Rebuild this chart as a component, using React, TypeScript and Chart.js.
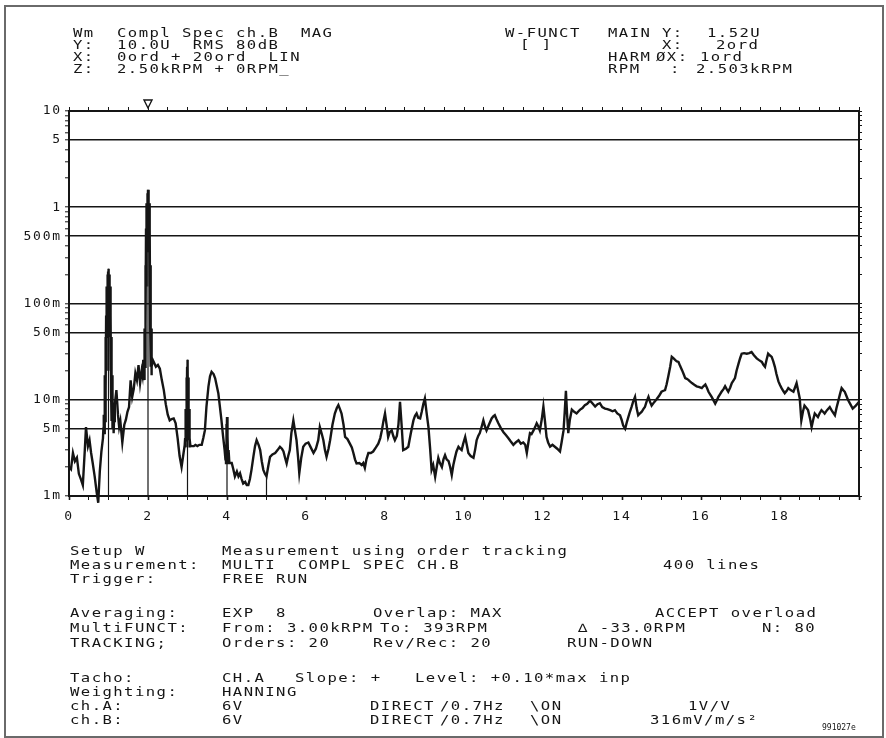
import { useEffect, useRef } from 'react';
import { Chart, registerables } from 'chart.js';

Chart.register(...registerables);

// One spectral bin: [order, magnitude in mV RMS]
type Bin = [number, number];

const bandBelowFirst: Bin[] = [
  [0, 2.0], [0.05, 1.9], [0.1, 2.8], [0.15, 2.3], [0.2, 2.5], [0.25, 1.7], [0.3, 1.5], [0.35, 1.3],
  [0.4, 3.0], [0.43, 5.2], [0.48, 3.3], [0.52, 3.8], [0.56, 2.8], [0.6, 2.2], [0.65, 1.6], [0.7, 1.1],
  [0.74, 0.85], [0.78, 1.8], [0.82, 2.9], [0.86, 4.0],
];

const peakFirstOrder: Bin[] = [
  [0.87, 5], [0.88, 7], [0.89, 4.5], [0.9, 11], [0.905, 5], [0.91, 18], [0.915, 6], [0.92, 30],
  [0.925, 9], [0.93, 45], [0.935, 12], [0.94, 75], [0.945, 20], [0.95, 110], [0.955, 30], [0.96, 150],
  [0.965, 45], [0.97, 180], [0.975, 60], [0.98, 200], [0.985, 80], [0.99, 215], [0.995, 100], [1.0, 230],
  [1.005, 100], [1.01, 215], [1.015, 80], [1.02, 200], [1.025, 60], [1.03, 180], [1.035, 45], [1.04, 150],
  [1.045, 30], [1.05, 110], [1.055, 20], [1.06, 75], [1.065, 12], [1.07, 45], [1.075, 9], [1.08, 30],
  [1.085, 6], [1.09, 18], [1.095, 5], [1.1, 11], [1.11, 5], [1.12, 8], [1.13, 4.5], [1.14, 6],
];

const bandToSecond: Bin[] = [
  [1.16, 9], [1.2, 12.6], [1.24, 7], [1.27, 5.2], [1.3, 6], [1.35, 3.6], [1.4, 5.5], [1.44, 6.2],
  [1.48, 7.5], [1.52, 8.4], [1.56, 15.9], [1.6, 10.7], [1.64, 13], [1.68, 18.8], [1.72, 16], [1.76, 22.9],
  [1.8, 14.9], [1.84, 20],
];

const peakSecondOrder: Bin[] = [
  [1.86, 18], [1.88, 26], [1.89, 18], [1.9, 25], [1.905, 16], [1.91, 35], [1.915, 18], [1.92, 55],
  [1.925, 22], [1.93, 100], [1.935, 30], [1.94, 250], [1.945, 60], [1.95, 600], [1.955, 150], [1.96, 900],
  [1.965, 250], [1.97, 1100], [1.975, 350], [1.98, 1250], [1.985, 450], [1.99, 1400], [1.995, 600],
  [2.0, 1520], [2.005, 600], [2.01, 1400], [2.015, 450], [2.02, 1250], [2.025, 350], [2.03, 1100],
  [2.035, 250], [2.04, 900], [2.045, 150], [2.05, 600], [2.055, 60], [2.06, 250], [2.065, 30], [2.07, 100],
  [2.075, 22], [2.08, 55], [2.085, 18], [2.09, 35], [2.1, 22], [2.12, 26],
];

const bandToThird: Bin[] = [
  [2.16, 24], [2.2, 22], [2.25, 23], [2.3, 21], [2.35, 16], [2.4, 12.6], [2.45, 9], [2.5, 7],
  [2.55, 6.1], [2.6, 6.3], [2.65, 6.4], [2.7, 5.7], [2.75, 4], [2.8, 2.6], [2.85, 2.0], [2.9, 2.8],
];

const peakThirdOrder: Bin[] = [
  [2.93, 3.4], [2.94, 4], [2.945, 3.2], [2.95, 5.5], [2.955, 3.4], [2.96, 8], [2.965, 3.8], [2.97, 12],
  [2.975, 4.5], [2.98, 17], [2.985, 6], [2.99, 22], [2.995, 8], [3.0, 26], [3.005, 8], [3.01, 22],
  [3.015, 6], [3.02, 17], [3.025, 4.5], [3.03, 12], [3.035, 3.8], [3.04, 8], [3.045, 3.4], [3.05, 5.5],
  [3.055, 3.2], [3.06, 4], [3.07, 3.4], [3.09, 3.3],
];

const bandToFourth: Bin[] = [
  [3.12, 3.3], [3.16, 3.3], [3.2, 3.4], [3.25, 3.3], [3.3, 3.4], [3.36, 3.4], [3.4, 4], [3.44, 4.8],
  [3.48, 8.5], [3.53, 13.7], [3.57, 17.5], [3.61, 19.5], [3.66, 18.5], [3.7, 16.7], [3.74, 14],
  [3.78, 11.7], [3.82, 8.5], [3.86, 6.1], [3.9, 4.2], [3.94, 3.0],
];

const peakFourthOrder: Bin[] = [
  [3.96, 2.4], [3.97, 3.2], [3.975, 2.2], [3.98, 4.4], [3.985, 2.5], [3.99, 5.6], [3.995, 3.0],
  [4.0, 6.6], [4.005, 3.2], [4.01, 5.4], [4.015, 2.6], [4.02, 4.2], [4.03, 2.2], [4.04, 3.0], [4.06, 2.2],
];

const bandFourToSeven: Bin[] = [
  [4.12, 2.2], [4.16, 1.9], [4.2, 1.6], [4.25, 1.8], [4.29, 1.6], [4.33, 1.72], [4.37, 1.5], [4.41, 1.35],
  [4.46, 1.4], [4.5, 1.3], [4.54, 1.3], [4.58, 1.5], [4.62, 1.87], [4.67, 2.6], [4.71, 3.3], [4.75, 3.8],
  [4.8, 3.4], [4.84, 3.0], [4.88, 2.3], [4.92, 1.87], [4.96, 1.7], [5.0, 1.6], [5.05, 2.1], [5.09, 2.55],
  [5.15, 2.7], [5.22, 2.8], [5.28, 3.0], [5.34, 3.25], [5.39, 3.1], [5.43, 2.9], [5.47, 2.5], [5.51, 2.18],
  [5.55, 2.6], [5.59, 3.0], [5.63, 4.5], [5.68, 6.1], [5.72, 4.8], [5.76, 3.8], [5.8, 2.5], [5.83, 1.72],
  [5.88, 2.5], [5.93, 3.25], [5.99, 3.5], [6.06, 3.6], [6.12, 3.2], [6.19, 2.8], [6.25, 3.1], [6.31, 3.8],
  [6.35, 5.2], [6.4, 4.4], [6.44, 3.8], [6.48, 3.0], [6.52, 2.55], [6.57, 3.1], [6.61, 3.8], [6.67, 5.5],
  [6.73, 7.2], [6.78, 8.2], [6.82, 8.8], [6.86, 8.0], [6.9, 7.2], [6.95, 5.5], [6.99, 4.1],
];

const bandSevenToTen: Bin[] = [
  [7.05, 3.9], [7.11, 3.5], [7.16, 3.2], [7.2, 2.8], [7.24, 2.4], [7.28, 2.18], [7.35, 2.2], [7.41, 2.1],
  [7.45, 2.2], [7.49, 1.96], [7.53, 2.4], [7.58, 2.8], [7.64, 2.8], [7.7, 2.9], [7.77, 3.2], [7.83, 3.5],
  [7.88, 4.0], [7.92, 4.8], [7.96, 6.0], [8.0, 7.2], [8.04, 5.5], [8.08, 4.1], [8.12, 4.6], [8.17, 4.8],
  [8.21, 4.2], [8.25, 3.8], [8.3, 4.2], [8.34, 5.5], [8.38, 9.5], [8.42, 5.5], [8.46, 3.0], [8.53, 3.1],
  [8.59, 3.25], [8.65, 4.4], [8.72, 6.1], [8.76, 6.8], [8.8, 7.2], [8.84, 6.5], [8.89, 6.4], [8.93, 7.5],
  [8.97, 9.0], [9.01, 10.3], [9.05, 7.5], [9.1, 5.2], [9.14, 3.2], [9.18, 1.87], [9.22, 2.1], [9.27, 1.58],
  [9.31, 2.0], [9.35, 2.49], [9.39, 2.2], [9.44, 2.0], [9.48, 2.4], [9.52, 2.66], [9.56, 2.4], [9.61, 2.3],
  [9.65, 2.0], [9.69, 1.65], [9.73, 2.1], [9.77, 2.49], [9.81, 2.9], [9.86, 3.25], [9.9, 3.1], [9.94, 3.0],
  [9.98, 3.5],
];

const bandTenToThirteen: Bin[] = [
  [10.03, 4.1], [10.07, 3.4], [10.11, 2.8], [10.17, 2.6], [10.24, 2.49], [10.28, 3.0], [10.32, 3.8],
  [10.36, 4.2], [10.4, 4.5], [10.45, 5.3], [10.49, 6.1], [10.53, 5.3], [10.57, 4.8], [10.63, 5.5],
  [10.7, 6.4], [10.74, 6.7], [10.78, 6.9], [10.82, 6.3], [10.87, 5.7], [10.93, 5.1], [11.0, 4.6],
  [11.06, 4.3], [11.12, 4.0], [11.18, 3.7], [11.25, 3.4], [11.31, 3.6], [11.38, 3.8], [11.44, 3.5],
  [11.5, 3.6], [11.55, 3.4], [11.59, 2.8], [11.63, 3.6], [11.67, 4.5], [11.71, 4.4], [11.76, 4.8],
  [11.8, 5.2], [11.84, 5.7], [11.88, 5.3], [11.92, 4.8], [11.97, 6.3], [12.01, 8.5], [12.05, 6.0],
  [12.09, 4.1], [12.13, 3.6], [12.18, 3.25], [12.24, 3.4], [12.3, 3.25], [12.36, 3.1], [12.43, 2.9],
  [12.47, 3.6], [12.52, 4.8], [12.55, 7.5], [12.58, 12.4], [12.61, 7.0], [12.64, 4.5], [12.68, 6.2],
  [12.73, 7.9], [12.79, 7.5], [12.85, 7.2], [12.9, 7.6], [12.94, 7.9], [13.0, 8.2], [13.06, 8.8],
];

const bandThirteenToSixteen: Bin[] = [
  [13.12, 9.1], [13.19, 9.8], [13.25, 9.2], [13.32, 8.5], [13.38, 9.0], [13.44, 9.2], [13.5, 8.4],
  [13.57, 8.1], [13.63, 8.0], [13.7, 7.8], [13.76, 7.6], [13.82, 7.8], [13.88, 7.2], [13.95, 6.9],
  [13.99, 6.2], [14.03, 5.4], [14.08, 5.0], [14.12, 5.8], [14.16, 6.6], [14.2, 7.5], [14.24, 8.4],
  [14.28, 9.5], [14.33, 10.7], [14.37, 8.2], [14.41, 6.9], [14.45, 7.2], [14.5, 7.5], [14.54, 8.0],
  [14.58, 8.4], [14.62, 9.5], [14.67, 10.7], [14.71, 9.5], [14.75, 8.7], [14.82, 9.5], [14.88, 10.2],
  [14.94, 11.0], [15.0, 12.1], [15.05, 12.4], [15.09, 12.6], [15.13, 14.5], [15.17, 17.3], [15.22, 22.0],
  [15.26, 27.9], [15.3, 27.0], [15.35, 25.8], [15.39, 25.0], [15.43, 24.7], [15.47, 22.5], [15.52, 20.3],
  [15.56, 18.5], [15.6, 16.8], [15.64, 16.5], [15.68, 16.1], [15.72, 15.5], [15.77, 14.9], [15.83, 14.3],
  [15.89, 13.8], [15.96, 13.5],
];

const bandSixteenToTwenty: Bin[] = [
  [16.02, 13.2], [16.06, 13.8], [16.11, 14.4], [16.15, 13.3], [16.19, 12.1], [16.23, 11.4], [16.27, 10.7],
  [16.32, 9.8], [16.36, 9.1], [16.4, 9.8], [16.44, 10.7], [16.48, 11.4], [16.52, 12.1], [16.57, 12.9],
  [16.61, 13.8], [16.65, 12.9], [16.69, 12.1], [16.74, 13.4], [16.78, 14.9], [16.82, 15.8], [16.86, 16.8],
  [16.9, 20.0], [16.95, 23.7], [16.99, 27.0], [17.03, 30.1], [17.09, 30.5], [17.16, 30.1], [17.22, 30.5],
  [17.28, 31.3], [17.34, 29.0], [17.41, 26.9], [17.47, 25.8], [17.54, 24.7], [17.58, 23.0], [17.62, 22.0],
  [17.66, 26.0], [17.7, 30.1], [17.74, 29.0], [17.79, 27.9], [17.83, 25.0], [17.87, 22.0], [17.91, 18.5],
  [17.96, 15.5], [18.0, 14.2], [18.04, 13.2], [18.08, 12.4], [18.12, 11.7], [18.17, 12.4], [18.21, 13.2],
  [18.27, 12.6], [18.34, 12.1], [18.38, 13.4], [18.42, 14.9], [18.46, 12.4], [18.5, 10.3], [18.54, 6.1],
  [18.58, 7.5], [18.62, 8.7], [18.67, 8.2], [18.71, 7.8], [18.76, 6.4], [18.8, 5.2], [18.84, 6.2],
  [18.88, 7.2], [18.92, 6.9], [18.96, 6.6], [19.0, 7.2], [19.05, 7.8], [19.09, 7.5], [19.13, 7.2],
  [19.19, 7.8], [19.26, 8.4], [19.32, 7.6], [19.39, 6.9], [19.43, 8.2], [19.47, 9.5], [19.52, 11.5],
  [19.56, 13.2], [19.6, 12.6], [19.64, 12.1], [19.68, 11.0], [19.72, 10.0], [19.78, 9.0], [19.84, 8.1],
  [19.88, 8.4], [19.92, 8.7], [19.96, 9.1], [20.0, 9.5],
];

const spectrumBands: Bin[][] = [
  bandBelowFirst, peakFirstOrder, bandToSecond, peakSecondOrder, bandToThird, peakThirdOrder,
  bandToFourth, peakFourthOrder, bandFourToSeven, bandSevenToTen, bandTenToThirteen,
  bandThirteenToSixteen, bandSixteenToTwenty,
];

// Harmonic cursor (HARM dX: 1ord) and main cursor position
const harmonicOrders = [1, 2, 3, 4, 5];
const cursorOrder = 2;

// Axis range and labels
const orderMin = 0;
const orderMax = 20;
const orderTickStep = 0.5;
const orderLabels = [0, 2, 4, 6, 8, 10, 12, 14, 16, 18];
const magMin = 0.001;
const magMax = 10;
const magLabelValues = [10, 5, 1, 0.5, 0.1, 0.05, 0.01, 0.005, 0.001];
const magLabelTexts = ['10', '5', '1', '500m', '100m', '50m', '10m', '5m', '1m'];
const magGridValues = [5, 1, 0.5, 0.1, 0.05, 0.01, 0.005];
const decadeExponents = [-3, -2, -1, 0];
const decadeSteps = [1, 2, 3, 4, 5, 6, 7, 8, 9];

const INK = '#151515';
const MONO = '"DejaVu Sans Mono", monospace';

const near = (a: number, b: number) => Math.abs(a - b) <= Math.abs(b) * 1e-6 + 1e-12;

const magTicks = decadeExponents
  .flatMap((e) => decadeSteps.map((s) => s * Math.pow(10, e)))
  .concat([magMax]);
const orderTicks: number[] = [];
for (let v = orderMin; v <= orderMax + 1e-9; v += orderTickStep) orderTicks.push(Math.round(v * 10) / 10);

// Header and setup listing: [left, centre y, text]
const headerText: [number, number, string][] = [
  [73, 33, 'Wm'], [117, 33, 'Compl Spec ch.B  MAG'],
  [73, 45, 'Y:'], [117, 45, '10.0U  RMS 80dB'],
  [73, 57, 'X:'], [117, 57, '0ord + 20ord  LIN'],
  [73, 69, 'Z:'], [117, 69, '2.50kRPM + 0RPM_'],
  [505, 33, 'W-FUNCT'], [520, 45, '[ ]'],
  [608, 33, 'MAIN'], [662, 33, 'Y:'], [707, 33, '1.52U'],
  [662, 45, 'X:'], [716, 45, '2ord'],
  [608, 57, 'HARM'], [656, 57, 'ØX:'], [700, 57, '1ord'],
  [608, 69, 'RPM'], [670, 69, ':'], [696, 69, '2.503kRPM'],
];

const setupText: [number, number, string][] = [
  [70, 551, 'Setup W'], [222, 551, 'Measurement using order tracking'],
  [70, 565, 'Measurement:'], [222, 565, 'MULTI  COMPL SPEC CH.B'], [663, 565, '400 lines'],
  [70, 579, 'Trigger:'], [222, 579, 'FREE RUN'],
  [70, 613, 'Averaging:'], [222, 613, 'EXP  8'], [373, 613, 'Overlap: MAX'], [655, 613, 'ACCEPT overload'],
  [70, 628, 'MultiFUNCT:'], [222, 628, 'From: 3.00kRPM'], [380, 628, 'To: 393RPM'],
  [578, 628, '∆ -33.0RPM'], [762, 628, 'N: 80'],
  [70, 643, 'TRACKING;'], [222, 643, 'Orders: 20'], [373, 643, 'Rev/Rec: 20'], [567, 643, 'RUN-DOWN'],
  [70, 678, 'Tacho:'], [222, 678, 'CH.A'], [295, 678, 'Slope: +'], [415, 678, 'Level: +0.10*max inp'],
  [70, 692, 'Weighting:'], [222, 692, 'HANNING'],
  [70, 706, 'ch.A:'], [222, 706, '6V'], [370, 706, 'DIRECT'], [440, 706, '/0.7Hz'], [530, 706, '\\ON'],
  [688, 706, '1V/V'],
  [70, 720, 'ch.B:'], [222, 720, '6V'], [370, 720, 'DIRECT'], [440, 720, '/0.7Hz'], [530, 720, '\\ON'],
  [650, 720, '316mV/m/s²'],
];

function PlotText({ x, y, text }: { x: number; y: number; text: string }) {
  return (
    <div
      style={{
        position: 'absolute',
        left: x,
        top: y - 7,
        whiteSpace: 'pre',
        fontFamily: MONO,
        fontSize: 12,
        lineHeight: '14px',
        letterSpacing: '1.1px',
        color: INK,
        transform: 'scaleX(1.3)',
        transformOrigin: '0 50%',
      }}
    >
      {text}
    </div>
  );
}

export default function App() {
  const canvasRef = useRef<HTMLCanvasElement | null>(null);

  useEffect(() => {
    const canvas = canvasRef.current;
    if (!canvas) return;

    const spectrum = spectrumBands.flat().map(([order, mv]) => ({ x: order, y: mv / 1000 }));

    // vertical harmonic cursor lines from the spectrum value down to the floor
    const cursorLines: { x: number; y: number | null }[] = [];
    harmonicOrders.forEach((k) => {
      const bin = spectrum.find((p) => near(p.x, k));
      if (!bin) return;
      cursorLines.push({ x: k, y: bin.y }, { x: k, y: magMin }, { x: k + 0.01, y: null });
    });

    const plotInk = {
      id: 'plotInk',
      beforeDraw(chart: any) {
        (chart.ctx as any).letterSpacing = '1.8px';
      },
      afterDraw(chart: any) {
        const { ctx, chartArea, scales } = chart;
        const x = scales.x.getPixelForValue(cursorOrder);
        const top = chartArea.top;
        ctx.save();
        ctx.strokeStyle = INK;
        ctx.lineWidth = 1.4;
        ctx.beginPath();
        ctx.moveTo(x - 4, top - 11);
        ctx.lineTo(x + 4, top - 11);
        ctx.lineTo(x, top - 3);
        ctx.closePath();
        ctx.stroke();
        ctx.restore();
      },
    };

    const tickFont = { family: MONO, size: 13 };
    const setOrderTicks = (scale: any) => {
      scale.ticks = orderTicks.map((value) => ({ value }));
    };
    const setMagTicks = (scale: any) => {
      scale.ticks = magTicks.map((value) => ({ value }));
    };

    const chart = new Chart(canvas, {
      type: 'line',
      data: {
        datasets: [
          {
            data: spectrum,
            borderColor: INK,
            borderWidth: 2.4,
            pointRadius: 0,
            tension: 0,
            xAxisID: 'x',
            yAxisID: 'y',
            order: 0,
            clip: { left: 0, top: 0, right: 0, bottom: 8 } as any,
          },
          {
            data: cursorLines as any,
            borderColor: INK,
            borderWidth: 1.2,
            pointRadius: 0,
            spanGaps: false,
            xAxisID: 'x',
            yAxisID: 'y',
            order: 1,
          },
        ],
      },
      options: {
        animation: false,
        responsive: false,
        maintainAspectRatio: false,
        events: [],
        layout: { padding: { left: 0, top: 0, right: 0, bottom: 212 } },
        plugins: { legend: { display: false }, tooltip: { enabled: false } },
        scales: {
          x: {
            type: 'linear',
            position: 'bottom',
            min: orderMin,
            max: orderMax,
            afterBuildTicks: setOrderTicks,
            afterFit: (s: any) => {
              s.height = 30;
            },
            ticks: {
              autoSkip: false,
              maxRotation: 0,
              padding: 9,
              color: INK,
              font: tickFont,
              callback: (v: any) => (orderLabels.some((o) => near(Number(v), o)) ? String(v) : ''),
            },
            grid: {
              drawOnChartArea: false,
              tickLength: 4,
              tickColor: INK,
              tickWidth: (c: any) => (c.tick && Number(c.tick.value) % 2 === 0 ? 1.6 : 1),
            },
            border: { display: true, color: INK, width: 2 },
          },
          x2: {
            type: 'linear',
            position: 'top',
            min: orderMin,
            max: orderMax,
            afterBuildTicks: setOrderTicks,
            afterFit: (s: any) => {
              s.height = 111;
            },
            ticks: { autoSkip: false, maxRotation: 0, callback: () => '' },
            grid: { drawOnChartArea: false, tickLength: 4, tickColor: INK, tickWidth: 1 },
            border: { display: true, color: INK, width: 2 },
          },
          y: {
            type: 'logarithmic',
            position: 'left',
            min: magMin,
            max: magMax,
            afterBuildTicks: setMagTicks,
            afterFit: (s: any) => {
              s.width = 69;
            },
            ticks: {
              autoSkip: false,
              padding: 3,
              color: INK,
              font: tickFont,
              callback: (v: any) => {
                const i = magLabelValues.findIndex((m) => near(Number(v), m));
                return i >= 0 ? magLabelTexts[i] : '';
              },
            },
            grid: {
              drawOnChartArea: true,
              color: (c: any) =>
                c.tick && magGridValues.some((g) => near(Number(c.tick.value), g)) ? INK : 'rgba(0,0,0,0)',
              lineWidth: 1.6,
              tickColor: INK,
              tickLength: 4,
              tickWidth: 1,
            },
            border: { display: true, color: INK, width: 2 },
          },
          y2: {
            type: 'logarithmic',
            position: 'right',
            min: magMin,
            max: magMax,
            afterBuildTicks: setMagTicks,
            afterFit: (s: any) => {
              s.width = 27;
            },
            ticks: { autoSkip: false, callback: () => '' },
            grid: { drawOnChartArea: false, tickLength: 3, tickColor: INK, tickWidth: 1 },
            border: { display: true, color: INK, width: 2 },
          },
        },
      } as any,
      plugins: [plotInk],
    });

    return () => chart.destroy();
  }, []);

  return (
    <div style={{ position: 'fixed', left: 0, top: 0, width: 886, height: 738, background: '#fff', overflow: 'hidden' }}>
      <div
        style={{
          position: 'absolute',
          left: 4,
          top: 5,
          width: 876,
          height: 729,
          border: '2px solid #6a6a6a',
        }}
      />
      <canvas ref={canvasRef} width={886} height={738} style={{ position: 'absolute', left: 0, top: 0 }} />
      {headerText.map(([x, y, t], i) => (
        <PlotText key={'h' + i} x={x} y={y} text={t} />
      ))}
      {setupText.map(([x, y, t], i) => (
        <PlotText key={'s' + i} x={x} y={y} text={t} />
      ))}
      <div
        style={{
          position: 'absolute',
          left: 822,
          top: 723,
          fontFamily: MONO,
          fontSize: 8,
          lineHeight: '10px',
          color: INK,
        }}
      >
        991027e
      </div>
    </div>
  );
}
